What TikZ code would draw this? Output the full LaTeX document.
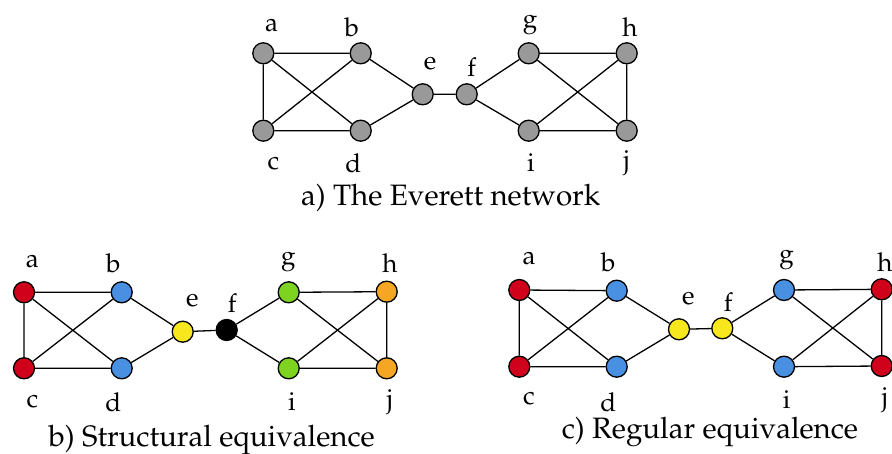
\documentclass[tikz,border=0pt]{standalone}
\usepackage[T1]{fontenc}
\usepackage{mathpazo}
\definecolor{vgray}{HTML}{999999}
\definecolor{vred}{HTML}{D0021B}
\definecolor{vblue}{HTML}{4A90E2}
\definecolor{vyellow}{HTML}{F8E71C}
\definecolor{vgreen}{HTML}{7ED321}
\definecolor{vorange}{HTML}{F5A623}
\tikzset{
  vtx/.style={circle, draw=black, line width=1.3pt, minimum size=21pt, inner sep=0pt, fill=#1},
  vtx/.default=vgray,
  lbl/.style={inner sep=0pt, font=\fontsize{26}{28}\selectfont},
  captext/.style={inner sep=0pt, font=\fontsize{29.5}{32}\selectfont},
  link/.style={line width=1.3pt, black}
}
\newcommand{\everettedges}[1]{%
  \draw[link] (#1a) -- (#1b) (#1a) -- (#1c) (#1a) -- (#1d) (#1b) -- (#1c)
    (#1c) -- (#1d) (#1b) -- (#1e) (#1d) -- (#1e) (#1e) -- (#1f)
    (#1f) -- (#1g) (#1f) -- (#1i) (#1g) -- (#1h) (#1g) -- (#1j)
    (#1h) -- (#1i) (#1h) -- (#1j) (#1i) -- (#1j);}
\begin{document}
\begin{tikzpicture}[x=1pt, y=-1pt]
\useasboundingbox (0,0) rectangle (892,454);

% a) the Everett network
\node[vtx] (Aa) at (263.3,53.3) {};
\node[vtx] (Ab) at (360.7,53.3) {};
\node[vtx] (Ac) at (263.3,130.7) {};
\node[vtx] (Ad) at (360.7,130.7) {};
\node[vtx] (Ae) at (422.7,94.3) {};
\node[vtx] (Af) at (466.7,94.3) {};
\node[vtx] (Ag) at (528.7,53.3) {};
\node[vtx] (Ah) at (626.7,53.3) {};
\node[vtx] (Ai) at (528.7,130.7) {};
\node[vtx] (Aj) at (626.7,130.7) {};
\everettedges{A}
\node[lbl] (lAa) at (271.7,25) {a};
\node[lbl] (lAb) at (351.7,26.7) {b};
\node[lbl] (lAc) at (273.3,163.3) {c};
\node[lbl] (lAd) at (353.3,163.3) {d};
\node[lbl] (lAe) at (430,63) {e};
\node[lbl] (lAf) at (471.7,66.7) {f};
\node[lbl] (lAg) at (530,25) {g};
\node[lbl] (lAh) at (630,26.7) {h};
\node[lbl] (lAi) at (531,163) {i};
\node[lbl] (lAj) at (626.7,163) {j};
\node[captext] (capA) at (450.7,198) {a) The Everett network};

% b) structural equivalence
\node[vtx=vred] (Ba) at (24,292.3) {};
\node[vtx=vblue] (Bb) at (121.7,292.3) {};
\node[vtx=vred] (Bc) at (24,368.3) {};
\node[vtx=vblue] (Bd) at (121.7,368.3) {};
\node[vtx=vyellow] (Be) at (182.7,331.7) {};
\node[vtx=black] (Bf) at (226.7,330) {};
\node[vtx=vgreen] (Bg) at (288.7,292.3) {};
\node[vtx=vorange] (Bh) at (386.7,291.7) {};
\node[vtx=vgreen] (Bi) at (288.7,368.3) {};
\node[vtx=vorange] (Bj) at (386.7,368.3) {};
\everettedges{B}
\node[lbl] (lBa) at (32.3,261.7) {a};
\node[lbl] (lBb) at (113.3,263.3) {b};
\node[lbl] (lBc) at (32.3,401.7) {c};
\node[lbl] (lBd) at (113.3,401.7) {d};
\node[lbl] (lBe) at (192.3,300) {e};
\node[lbl] (lBf) at (232.3,303) {f};
\node[lbl] (lBg) at (288.3,261.7) {g};
\node[lbl] (lBh) at (390,263.3) {h};
\node[lbl] (lBi) at (292,401.7) {i};
\node[lbl] (lBj) at (390,401.7) {j};
\node[captext] (capB) at (211.7,440) {b) Structural equivalence};

% c) regular equivalence
\node[vtx=vred] (Ca) at (519.3,290) {};
\node[vtx=vblue] (Cb) at (616.7,290.7) {};
\node[vtx=vred] (Cc) at (519.3,366.7) {};
\node[vtx=vblue] (Cd) at (616.7,366.7) {};
\node[vtx=vyellow] (Ce) at (679,329.3) {};
\node[vtx=vyellow] (Cf) at (722.3,328.3) {};
\node[vtx=vblue] (Cg) at (784,290) {};
\node[vtx=vred] (Ch) at (881.7,289.3) {};
\node[vtx=vblue] (Ci) at (784,366.7) {};
\node[vtx=vred] (Cj) at (881.7,366) {};
\everettedges{C}
\node[lbl] (lCa) at (529,258.3) {a};
\node[lbl] (lCb) at (608.3,261.7) {b};
\node[lbl] (lCc) at (529,398.3) {c};
\node[lbl] (lCd) at (608.3,401.7) {d};
\node[lbl] (lCe) at (688.3,298.3) {e};
\node[lbl] (lCf) at (728.3,301.7) {f};
\node[lbl] (lCg) at (786.7,260) {g};
\node[lbl] (lCh) at (885,261.7) {h};
\node[lbl] (lCi) at (786.7,400) {i};
\node[lbl] (lCj) at (885,400) {j};
\node[captext] (capC) at (710,431.7) {c) Regular equivalence};
\end{tikzpicture}
\end{document}
